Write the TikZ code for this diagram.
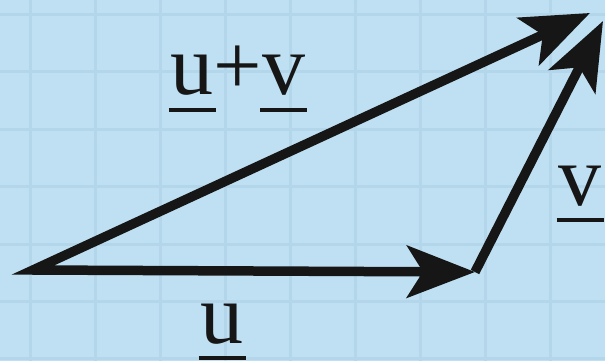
\documentclass[tikz,border=0pt]{standalone}
\usepackage{fontspec}
\setmainfont{Liberation Serif}
\usetikzlibrary{arrows.meta}
\definecolor{bg}{HTML}{BEE0F2}
\definecolor{gridc}{HTML}{B3D6EA}
\definecolor{ink}{HTML}{161616}
\newcommand\ulx[1]{\setbox0\hbox{#1}\rlap{\kern-2pt\rule[-17pt]{\dimexpr\wd0+4pt\relax}{4pt}}#1}
\tikzset{
  tipstyle/.tip={Stealth[length=68pt,width=52pt,inset=16pt]},
  vec/.style={draw=ink, line width=9.5pt, line join=miter, miter limit=20, -tipstyle},
  lab/.style={anchor=base, inner sep=0pt, text=ink, font=\fontsize{86}{90}\selectfont},
  gridline/.style={draw=gridc, line width=3pt}
}
\begin{document}
\begin{tikzpicture}[x=1pt,y=-1pt]
\fill[bg] (0,0) rectangle (605,361);
\useasboundingbox (0,0) rectangle (605,361);
\foreach \x in {30,95,160,225,290,355,420,485,550}
  \draw[gridline] (\x,0) -- (\x,361);
\foreach \y in {15,72,129,186,244,301,358}
  \draw[gridline] (0,\y) -- (605,\y);
\coordinate (O) at (33,270);
\coordinate (P) at (475,272);
\coordinate (Q) at (603,21);
\coordinate (R) at (590,13);
\draw[vec, tipstyle-tipstyle] (R) -- (O) -- (P);
\draw[vec] (P) -- (Q);
\node[lab] (luv) at (238,95) {\ulx{u}+\ulx{v}};
\node[lab] (lv) at (580,205) {\ulx{v}};
\node[lab] (lu) at (222,343) {\ulx{u}};
\end{tikzpicture}
\end{document}
